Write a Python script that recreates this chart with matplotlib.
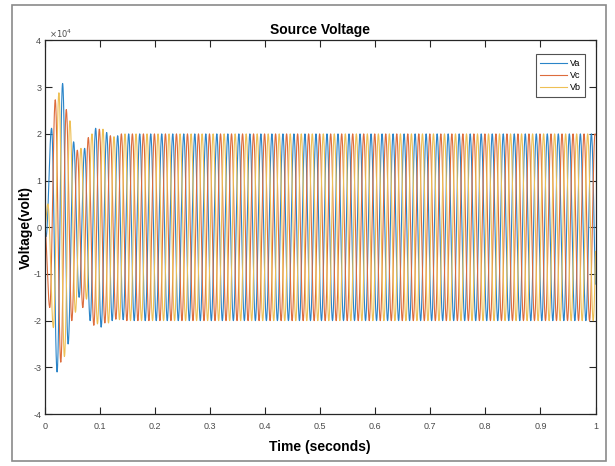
import numpy as np
import matplotlib
matplotlib.use("Agg")
import matplotlib.pyplot as plt
from matplotlib.patches import Rectangle

# ---------------- data ----------------
freq_hz = 50.0                      # supply frequency
t_end = 1.0                         # simulation length (s)
steady_amp = 2.0                    # steady-state peak (x1e4 V)
# time of first extremum of each phase (s)
va_first = 0.0025
vc_first = 0.0092
vb_first = 0.0058
# successive half-cycle extrema at start-up (x1e4 V), then steady state
va_extrema = [-0.2, 2.12, -3.10, 3.08, -2.50, 1.83, -1.50, 1.69, -2.00, 2.12,
              -2.14, 2.03, -2.00, 1.96, -1.98, 2.00]
vc_extrema = [-1.72, 2.73, -2.89, 2.52, -2.00, 1.65, -1.72, 1.92, -2.10, 2.10,
              -2.05, 1.96, -1.97, 2.00]
vb_extrema = [0.50, -2.15, 2.88, -2.77, 2.28, -1.82, 1.69, -1.54, 2.00, -2.07,
              2.10, -2.05, 1.94, -1.98]
series_names = ["Va", "Vc", "Vb"]
x_ticks = [0, 0.1, 0.2, 0.3, 0.4, 0.5, 0.6, 0.7, 0.8, 0.9, 1]
x_ticklabels = ["0", "0.1", "0.2", "0.3", "0.4", "0.5", "0.6", "0.7", "0.8", "0.9", "1"]
y_ticks = [-4, -3, -2, -1, 0, 1, 2, 3, 4]
y_ticklabels = ["-4", "-3", "-2", "-1", "0", "1", "2", "3", "4"]


def waveform(first, extrema):
    half = 0.5 / freq_hz
    vals = list(extrema)
    times = [first + half * k for k in range(len(vals))]
    sign = -np.sign(vals[-1])
    while times[-1] < t_end:
        times.append(times[-1] + half)
        vals.append(sign * steady_amp)
        sign = -sign
    times = [0.0] + times
    vals = [0.0] + vals
    ts, vs = [], []
    for i in range(len(times) - 1):
        s = np.linspace(0, 1, 24, endpoint=False)
        ts.append(times[i] + (times[i + 1] - times[i]) * s)
        vs.append(vals[i] + (vals[i + 1] - vals[i]) * (1 - np.cos(np.pi * s)) / 2)
    t = np.concatenate(ts)
    v = np.concatenate(vs)
    m = t <= t_end
    return t[m], v[m] * 1e4


colors = ["#2a84c8", "#dd6c3c", "#eec055"]
curves = [waveform(va_first, va_extrema),
          waveform(vc_first, vc_extrema),
          waveform(vb_first, vb_extrema)]

plt.rcParams['font.family'] = ['Liberation Sans Narrow', 'Liberation Sans', 'DejaVu Sans']

fig = plt.figure(figsize=(6.15, 4.66), dpi=100)
W, H = 615, 466
fig.patches.append(Rectangle((12 / W, 5 / H), (606 - 12) / W, (461 - 5) / H,
                             transform=fig.transFigure, fill=False,
                             edgecolor="#8a8a8a", linewidth=1.2))

left, right, top, bottom = 44.7, 595.5, 40.5, 414.0
ax = fig.add_axes([left / W, 1 - bottom / H, (right - left) / W, (bottom - top) / H])

for (t, v), c, name in zip(curves, colors, series_names):
    ax.plot(t, v, color=c, linewidth=0.8, label=name)

ax.set_xlim(0, 1)
ax.set_ylim(-4e4, 4e4)
ax.set_xticks(x_ticks)
ax.set_xticklabels(x_ticklabels)
ax.set_yticks([y * 1e4 for y in y_ticks])
ax.set_yticklabels(y_ticklabels)
ax.tick_params(direction="in", length=5, width=0.8, labelsize=6.5,
               labelcolor="#4a4a4a", color="#262626", top=True, right=True, pad=6)
ax.tick_params(axis="y", pad=2.5)
for sp in ax.spines.values():
    sp.set_color("#262626")
    sp.set_linewidth(0.9)

ax.text(0.008, 1.0, r"$\times10^{4}$", transform=ax.transAxes, fontsize=6,
        color="#4a4a4a", ha="left", va="bottom")
ax.set_title("Source Voltage", fontsize=10, fontweight="bold", pad=5)
ax.set_xlabel("Time (seconds)", fontsize=10, fontweight="bold", labelpad=6)
ax.set_ylabel("Voltage(volt)", fontsize=10, fontweight="bold")
ax.yaxis.set_label_coords(-0.022, 0.5)

leg = ax.legend(loc="upper right", fontsize=6.5, frameon=True, fancybox=False,
                handlelength=3.0, borderpad=0.5, labelspacing=0.35,
                handletextpad=0.3, bbox_to_anchor=(0.99, 0.975))
leg.get_frame().set_edgecolor("#262626")
leg.get_frame().set_linewidth(0.8)

fig.savefig("out.png", dpi=100)
